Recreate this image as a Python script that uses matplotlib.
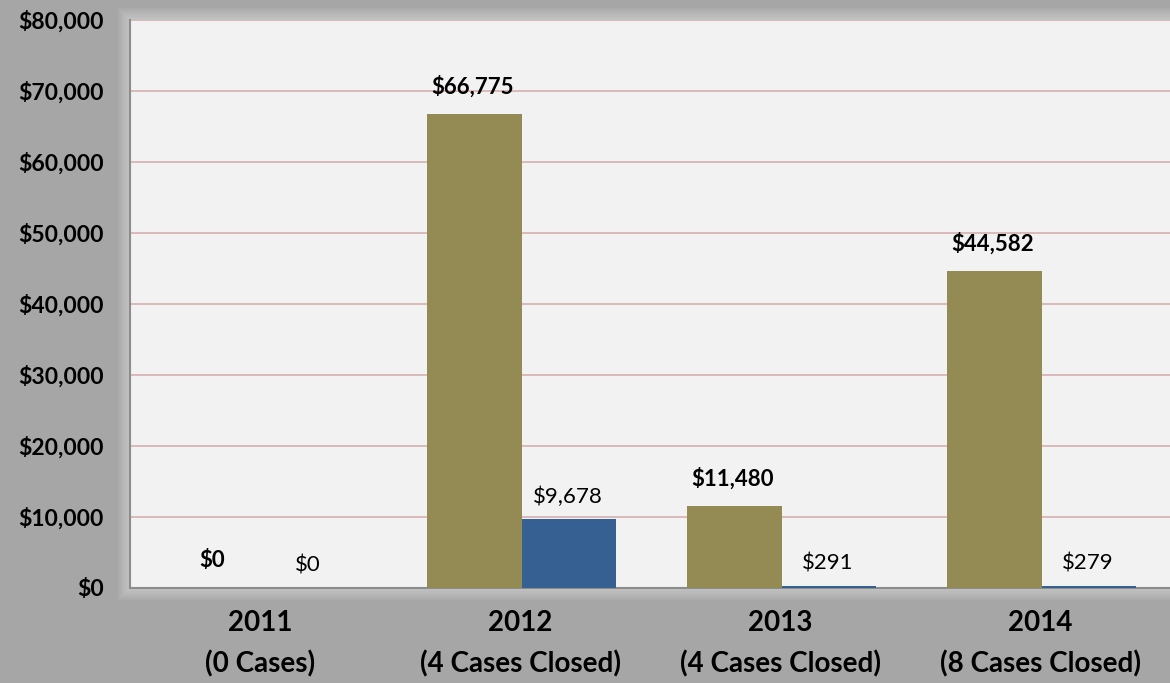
import matplotlib.pyplot as plt
from matplotlib.patches import Rectangle
from matplotlib.ticker import FuncFormatter

# Recovered amounts per year
years = ['2011\n(0 Cases)', '2012\n(4 Cases Closed)', '2013\n(4 Cases Closed)', '2014\n(8 Cases Closed)']
identified = [0, 66775, 11480, 44582]
recovered = [0, 9678, 291, 279]

OLIVE = '#948a54'
BLUE = '#366092'

plt.rcParams['font.family'] = ['Lato', 'DejaVu Sans']

fig = plt.figure(figsize=(11.7, 6.83), dpi=100, facecolor='#a6a6a6')
ax = fig.add_axes([130 / 1170, 95 / 683, 1 - 130 / 1170, 568 / 683])
ax.set_facecolor('#f2f2f2')
ax.set_zorder(2)

# soft glow around the plot area (drawn under the axes)
box = ax.get_position()
for i in range(8):
    d = (8 - i) * 0.0022
    fig.patches.append(Rectangle((box.x0 - d * 0.6, box.y0 - d), box.width + d, box.height + d * 2,
                                 transform=fig.transFigure, facecolor='white', alpha=0.05,
                                 edgecolor='none', zorder=0))

x = range(len(years))
w = 0.365
ax.bar([i - w / 2 + 0.006 for i in x], identified, w, color=OLIVE, zorder=3)
ax.bar([i + w / 2 + 0.006 for i in x], recovered, w, color=BLUE, zorder=3)

for i in x:
    ax.annotate(f'${identified[i]:,}', (i - w / 2, identified[i]), xytext=(0, 12),
                textcoords='offset points', ha='center', va='bottom',
                fontsize=16, fontweight='bold', color='black')
    ax.annotate(f'${recovered[i]:,}', (i + w / 2, recovered[i]), xytext=(0, 9),
                textcoords='offset points', ha='center', va='bottom',
                fontsize=16, color='black')

ax.set_xlim(-0.5, 3.5)
ax.set_ylim(0, 80000)
ax.set_yticks(range(0, 80001, 10000))
ax.yaxis.set_major_formatter(FuncFormatter(lambda v, p: f'${v:,.0f}'))
ax.set_xticks(list(x))
ax.set_xticklabels(years, fontsize=20, fontweight='bold', linespacing=1.65)
for lab in ax.get_yticklabels():
    lab.set_fontsize(16.5)
    lab.set_fontweight('bold')
ax.tick_params(axis='y', length=0, pad=19)
ax.tick_params(axis='x', length=0, pad=16)

ax.grid(axis='y', color='#d8b4b4', linewidth=1.3, zorder=1)
ax.set_axisbelow(True)
for s in ['top', 'right']:
    ax.spines[s].set_visible(False)
ax.spines['left'].set_color('#8c8c8c')
ax.spines['bottom'].set_color('#8c8c8c')
ax.spines['left'].set_linewidth(1.5)
ax.spines['bottom'].set_linewidth(1.5)

fig.savefig('out.png', dpi=100, facecolor=fig.get_facecolor())
